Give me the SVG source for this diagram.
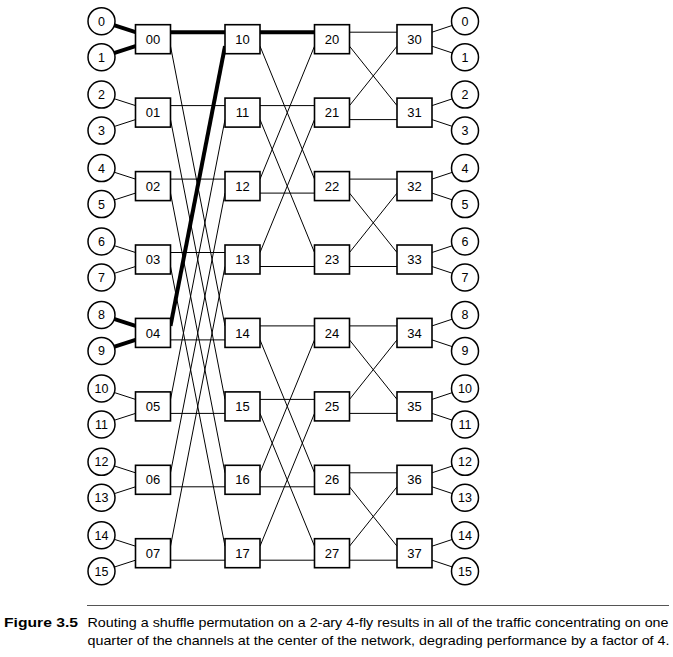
<svg xmlns="http://www.w3.org/2000/svg" width="673" height="657" viewBox="0 0 673 657">
<style>
.sw rect{fill:#fff;stroke:#000;stroke-width:1.6}
.sw text,.term text{font-family:"Liberation Sans",Arial,sans-serif;text-anchor:middle;fill:#000}
.sw text{font-size:13px}
.term text{font-size:12.5px}
.term circle{fill:#fff;stroke:#000;stroke-width:1.5}
.c line{stroke:#000;stroke-width:1}
.c line.t{stroke-width:4}
.cap{font-family:"Liberation Sans",Arial,sans-serif;font-size:13px;fill:#000}
</style>
<rect width="673" height="657" fill="#fff"/>
<g id="connectors" class="c">
<line class="t" x1="101.5" y1="21.2" x2="135.5" y2="32.2"/><line class="t" x1="101.5" y1="57.2" x2="135.5" y2="46.2"/>
<line x1="101.5" y1="94.6" x2="135.5" y2="105.6"/><line x1="101.5" y1="130.6" x2="135.5" y2="119.6"/>
<line x1="101.5" y1="168.1" x2="135.5" y2="179.1"/><line x1="101.5" y1="204.1" x2="135.5" y2="193.1"/>
<line x1="101.5" y1="241.5" x2="135.5" y2="252.5"/><line x1="101.5" y1="277.5" x2="135.5" y2="266.5"/>
<line class="t" x1="101.5" y1="314.9" x2="135.5" y2="325.9"/><line class="t" x1="101.5" y1="350.9" x2="135.5" y2="339.9"/>
<line x1="101.5" y1="388.4" x2="135.5" y2="399.4"/><line x1="101.5" y1="424.4" x2="135.5" y2="413.4"/>
<line x1="101.5" y1="461.8" x2="135.5" y2="472.8"/><line x1="101.5" y1="497.8" x2="135.5" y2="486.8"/>
<line x1="101.5" y1="535.2" x2="135.5" y2="546.2"/><line x1="101.5" y1="571.2" x2="135.5" y2="560.2"/>
<line x1="170.5" y1="46.2" x2="225" y2="325.9"/>
<line x1="170.5" y1="105.6" x2="225" y2="105.6"/><line x1="170.5" y1="119.6" x2="225" y2="399.4"/>
<line x1="170.5" y1="179.1" x2="225" y2="179.1"/><line x1="170.5" y1="193.1" x2="225" y2="472.8"/>
<line x1="170.5" y1="252.5" x2="225" y2="252.5"/><line x1="170.5" y1="266.5" x2="225" y2="546.2"/>
<line x1="170.5" y1="339.9" x2="225" y2="339.9"/>
<line x1="170.5" y1="399.4" x2="225" y2="119.6"/><line x1="170.5" y1="413.4" x2="225" y2="413.4"/>
<line x1="170.5" y1="472.8" x2="225" y2="193.1"/><line x1="170.5" y1="486.8" x2="225" y2="486.8"/>
<line x1="170.5" y1="546.2" x2="225" y2="266.5"/><line x1="170.5" y1="560.2" x2="225" y2="560.2"/>
<line class="t" x1="170.5" y1="32.2" x2="225" y2="32.2"/>
<line class="t" x1="170.5" y1="325.9" x2="225" y2="46.2"/>
<line x1="260" y1="46.2" x2="314.5" y2="179.1"/>
<line x1="260" y1="105.6" x2="314.5" y2="105.6"/><line x1="260" y1="119.6" x2="314.5" y2="252.5"/>
<line x1="260" y1="179.1" x2="314.5" y2="46.2"/><line x1="260" y1="193.1" x2="314.5" y2="193.1"/>
<line x1="260" y1="252.5" x2="314.5" y2="119.6"/><line x1="260" y1="266.5" x2="314.5" y2="266.5"/>
<line x1="260" y1="325.9" x2="314.5" y2="325.9"/><line x1="260" y1="339.9" x2="314.5" y2="472.8"/>
<line x1="260" y1="399.4" x2="314.5" y2="399.4"/><line x1="260" y1="413.4" x2="314.5" y2="546.2"/>
<line x1="260" y1="472.8" x2="314.5" y2="339.9"/><line x1="260" y1="486.8" x2="314.5" y2="486.8"/>
<line x1="260" y1="546.2" x2="314.5" y2="413.4"/><line x1="260" y1="560.2" x2="314.5" y2="560.2"/>
<line class="t" x1="260" y1="32.2" x2="314.5" y2="32.2"/>
<line x1="349.5" y1="32.2" x2="397" y2="32.2"/><line x1="349.5" y1="46.2" x2="397" y2="105.6"/>
<line x1="349.5" y1="105.6" x2="397" y2="46.2"/><line x1="349.5" y1="119.6" x2="397" y2="119.6"/>
<line x1="349.5" y1="179.1" x2="397" y2="179.1"/><line x1="349.5" y1="193.1" x2="397" y2="252.5"/>
<line x1="349.5" y1="252.5" x2="397" y2="193.1"/><line x1="349.5" y1="266.5" x2="397" y2="266.5"/>
<line x1="349.5" y1="325.9" x2="397" y2="325.9"/><line x1="349.5" y1="339.9" x2="397" y2="399.4"/>
<line x1="349.5" y1="399.4" x2="397" y2="339.9"/><line x1="349.5" y1="413.4" x2="397" y2="413.4"/>
<line x1="349.5" y1="472.8" x2="397" y2="472.8"/><line x1="349.5" y1="486.8" x2="397" y2="546.2"/>
<line x1="349.5" y1="546.2" x2="397" y2="486.8"/><line x1="349.5" y1="560.2" x2="397" y2="560.2"/>
<line x1="432" y1="32.2" x2="465" y2="21.2"/><line x1="432" y1="46.2" x2="465" y2="57.2"/>
<line x1="432" y1="105.6" x2="465" y2="94.6"/><line x1="432" y1="119.6" x2="465" y2="130.6"/>
<line x1="432" y1="179.1" x2="465" y2="168.1"/><line x1="432" y1="193.1" x2="465" y2="204.1"/>
<line x1="432" y1="252.5" x2="465" y2="241.5"/><line x1="432" y1="266.5" x2="465" y2="277.5"/>
<line x1="432" y1="325.9" x2="465" y2="314.9"/><line x1="432" y1="339.9" x2="465" y2="350.9"/>
<line x1="432" y1="399.4" x2="465" y2="388.4"/><line x1="432" y1="413.4" x2="465" y2="424.4"/>
<line x1="432" y1="472.8" x2="465" y2="461.8"/><line x1="432" y1="486.8" x2="465" y2="497.8"/>
<line x1="432" y1="546.2" x2="465" y2="535.2"/><line x1="432" y1="560.2" x2="465" y2="571.2"/>
</g>
<g id="in0" class="term"><circle cx="101.5" cy="21.2" r="13.5"/><text x="101.5" y="25.6">0</text></g>
<g id="in1" class="term"><circle cx="101.5" cy="57.2" r="13.5"/><text x="101.5" y="61.6">1</text></g>
<g id="in2" class="term"><circle cx="101.5" cy="94.6" r="13.5"/><text x="101.5" y="99">2</text></g>
<g id="in3" class="term"><circle cx="101.5" cy="130.6" r="13.5"/><text x="101.5" y="135">3</text></g>
<g id="in4" class="term"><circle cx="101.5" cy="168.1" r="13.5"/><text x="101.5" y="172.5">4</text></g>
<g id="in5" class="term"><circle cx="101.5" cy="204.1" r="13.5"/><text x="101.5" y="208.5">5</text></g>
<g id="in6" class="term"><circle cx="101.5" cy="241.5" r="13.5"/><text x="101.5" y="245.9">6</text></g>
<g id="in7" class="term"><circle cx="101.5" cy="277.5" r="13.5"/><text x="101.5" y="281.9">7</text></g>
<g id="in8" class="term"><circle cx="101.5" cy="314.9" r="13.5"/><text x="101.5" y="319.3">8</text></g>
<g id="in9" class="term"><circle cx="101.5" cy="350.9" r="13.5"/><text x="101.5" y="355.3">9</text></g>
<g id="in10" class="term"><circle cx="101.5" cy="388.4" r="13.5"/><text x="101.5" y="392.8">10</text></g>
<g id="in11" class="term"><circle cx="101.5" cy="424.4" r="13.5"/><text x="101.5" y="428.8">11</text></g>
<g id="in12" class="term"><circle cx="101.5" cy="461.8" r="13.5"/><text x="101.5" y="466.2">12</text></g>
<g id="in13" class="term"><circle cx="101.5" cy="497.8" r="13.5"/><text x="101.5" y="502.2">13</text></g>
<g id="in14" class="term"><circle cx="101.5" cy="535.2" r="13.5"/><text x="101.5" y="539.6">14</text></g>
<g id="in15" class="term"><circle cx="101.5" cy="571.2" r="13.5"/><text x="101.5" y="575.6">15</text></g>
<g id="out0" class="term"><circle cx="465" cy="21.2" r="13.5"/><text x="465" y="25.6">0</text></g>
<g id="out1" class="term"><circle cx="465" cy="57.2" r="13.5"/><text x="465" y="61.6">1</text></g>
<g id="out2" class="term"><circle cx="465" cy="94.6" r="13.5"/><text x="465" y="99">2</text></g>
<g id="out3" class="term"><circle cx="465" cy="130.6" r="13.5"/><text x="465" y="135">3</text></g>
<g id="out4" class="term"><circle cx="465" cy="168.1" r="13.5"/><text x="465" y="172.5">4</text></g>
<g id="out5" class="term"><circle cx="465" cy="204.1" r="13.5"/><text x="465" y="208.5">5</text></g>
<g id="out6" class="term"><circle cx="465" cy="241.5" r="13.5"/><text x="465" y="245.9">6</text></g>
<g id="out7" class="term"><circle cx="465" cy="277.5" r="13.5"/><text x="465" y="281.9">7</text></g>
<g id="out8" class="term"><circle cx="465" cy="314.9" r="13.5"/><text x="465" y="319.3">8</text></g>
<g id="out9" class="term"><circle cx="465" cy="350.9" r="13.5"/><text x="465" y="355.3">9</text></g>
<g id="out10" class="term"><circle cx="465" cy="388.4" r="13.5"/><text x="465" y="392.8">10</text></g>
<g id="out11" class="term"><circle cx="465" cy="424.4" r="13.5"/><text x="465" y="428.8">11</text></g>
<g id="out12" class="term"><circle cx="465" cy="461.8" r="13.5"/><text x="465" y="466.2">12</text></g>
<g id="out13" class="term"><circle cx="465" cy="497.8" r="13.5"/><text x="465" y="502.2">13</text></g>
<g id="out14" class="term"><circle cx="465" cy="535.2" r="13.5"/><text x="465" y="539.6">14</text></g>
<g id="out15" class="term"><circle cx="465" cy="571.2" r="13.5"/><text x="465" y="575.6">15</text></g>
<g id="sw00" class="sw"><rect x="135.5" y="24.7" width="35" height="29"/><text x="153" y="43.8">00</text></g>
<g id="sw01" class="sw"><rect x="135.5" y="98.1" width="35" height="29"/><text x="153" y="117.2">01</text></g>
<g id="sw02" class="sw"><rect x="135.5" y="171.6" width="35" height="29"/><text x="153" y="190.7">02</text></g>
<g id="sw03" class="sw"><rect x="135.5" y="245" width="35" height="29"/><text x="153" y="264.1">03</text></g>
<g id="sw04" class="sw"><rect x="135.5" y="318.4" width="35" height="29"/><text x="153" y="337.5">04</text></g>
<g id="sw05" class="sw"><rect x="135.5" y="391.9" width="35" height="29"/><text x="153" y="411">05</text></g>
<g id="sw06" class="sw"><rect x="135.5" y="465.3" width="35" height="29"/><text x="153" y="484.4">06</text></g>
<g id="sw07" class="sw"><rect x="135.5" y="538.7" width="35" height="29"/><text x="153" y="557.8">07</text></g>
<g id="sw10" class="sw"><rect x="225" y="24.7" width="35" height="29"/><text x="242.5" y="43.8">10</text></g>
<g id="sw11" class="sw"><rect x="225" y="98.1" width="35" height="29"/><text x="242.5" y="117.2">11</text></g>
<g id="sw12" class="sw"><rect x="225" y="171.6" width="35" height="29"/><text x="242.5" y="190.7">12</text></g>
<g id="sw13" class="sw"><rect x="225" y="245" width="35" height="29"/><text x="242.5" y="264.1">13</text></g>
<g id="sw14" class="sw"><rect x="225" y="318.4" width="35" height="29"/><text x="242.5" y="337.5">14</text></g>
<g id="sw15" class="sw"><rect x="225" y="391.9" width="35" height="29"/><text x="242.5" y="411">15</text></g>
<g id="sw16" class="sw"><rect x="225" y="465.3" width="35" height="29"/><text x="242.5" y="484.4">16</text></g>
<g id="sw17" class="sw"><rect x="225" y="538.7" width="35" height="29"/><text x="242.5" y="557.8">17</text></g>
<g id="sw20" class="sw"><rect x="314.5" y="24.7" width="35" height="29"/><text x="332" y="43.8">20</text></g>
<g id="sw21" class="sw"><rect x="314.5" y="98.1" width="35" height="29"/><text x="332" y="117.2">21</text></g>
<g id="sw22" class="sw"><rect x="314.5" y="171.6" width="35" height="29"/><text x="332" y="190.7">22</text></g>
<g id="sw23" class="sw"><rect x="314.5" y="245" width="35" height="29"/><text x="332" y="264.1">23</text></g>
<g id="sw24" class="sw"><rect x="314.5" y="318.4" width="35" height="29"/><text x="332" y="337.5">24</text></g>
<g id="sw25" class="sw"><rect x="314.5" y="391.9" width="35" height="29"/><text x="332" y="411">25</text></g>
<g id="sw26" class="sw"><rect x="314.5" y="465.3" width="35" height="29"/><text x="332" y="484.4">26</text></g>
<g id="sw27" class="sw"><rect x="314.5" y="538.7" width="35" height="29"/><text x="332" y="557.8">27</text></g>
<g id="sw30" class="sw"><rect x="397" y="24.7" width="35" height="29"/><text x="414.5" y="43.8">30</text></g>
<g id="sw31" class="sw"><rect x="397" y="98.1" width="35" height="29"/><text x="414.5" y="117.2">31</text></g>
<g id="sw32" class="sw"><rect x="397" y="171.6" width="35" height="29"/><text x="414.5" y="190.7">32</text></g>
<g id="sw33" class="sw"><rect x="397" y="245" width="35" height="29"/><text x="414.5" y="264.1">33</text></g>
<g id="sw34" class="sw"><rect x="397" y="318.4" width="35" height="29"/><text x="414.5" y="337.5">34</text></g>
<g id="sw35" class="sw"><rect x="397" y="391.9" width="35" height="29"/><text x="414.5" y="411">35</text></g>
<g id="sw36" class="sw"><rect x="397" y="465.3" width="35" height="29"/><text x="414.5" y="484.4">36</text></g>
<g id="sw37" class="sw"><rect x="397" y="538.7" width="35" height="29"/><text x="414.5" y="557.8">37</text></g>
<g id="caption">
<line x1="87" y1="605.5" x2="669" y2="605.5" stroke="#555" stroke-width="1.2"/>
<text class="cap" x="4" y="627" font-weight="bold" textLength="74" lengthAdjust="spacingAndGlyphs">Figure 3.5</text>
<text class="cap" x="87.5" y="627" textLength="581" lengthAdjust="spacingAndGlyphs">Routing a shuffle permutation on a 2-ary 4-fly results in all of the traffic concentrating on one</text>
<text class="cap" x="87.5" y="644.5" textLength="582" lengthAdjust="spacingAndGlyphs">quarter of the channels at the center of the network, degrading performance by a factor of 4.</text>
</g>
</svg>
